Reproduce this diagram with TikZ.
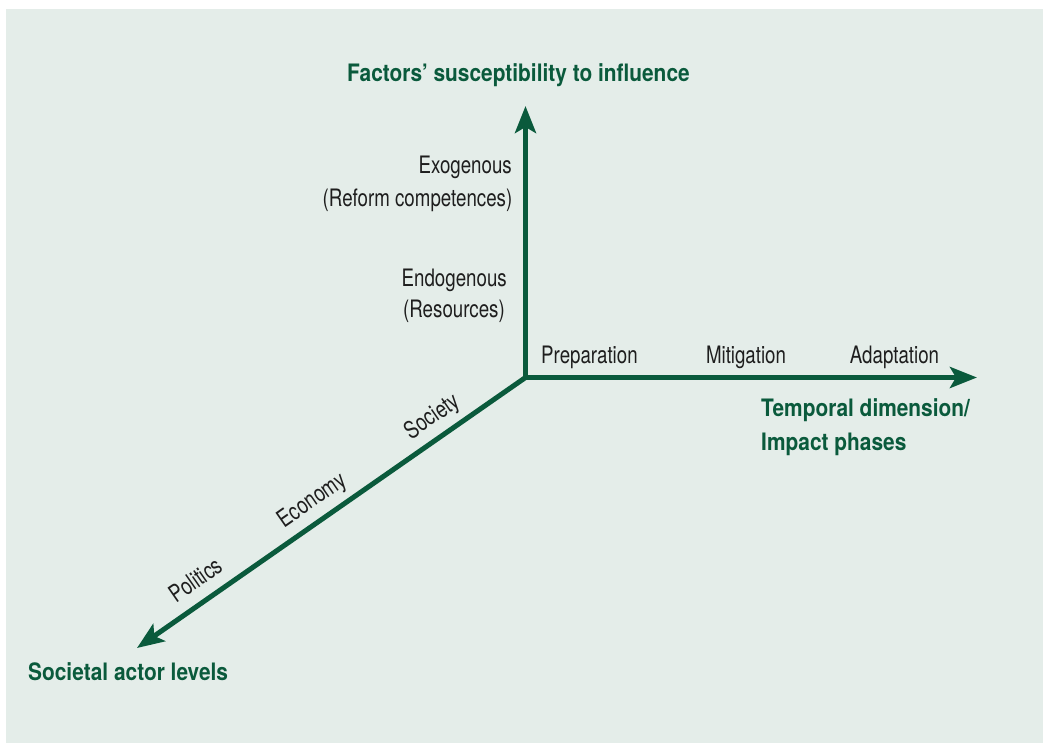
\documentclass[tikz,border=0pt]{standalone}
\usepackage{fontspec}
\usetikzlibrary{arrows.meta,calc}
\newfontfamily\lblfont{TeX Gyre Heros}[FakeStretch=0.78]
\newfontfamily\ttlfont{TeX Gyre Heros}[FakeStretch=0.87]
\definecolor{axisgreen}{HTML}{0A5A3C}
\definecolor{bggreen}{HTML}{E4EDE9}
\definecolor{lbltext}{HTML}{1E1E1E}
\tikzset{
  axisline/.style={line width=5pt, draw=axisgreen, line join=miter,
    -{Stealth[length=27pt,width=21pt,inset=6pt]}},
  lbl/.style={inner sep=0pt, text=lbltext, font=\lblfont\fontsize{24}{28}\selectfont},
  ttl/.style={inner sep=0pt, text=axisgreen, font=\ttlfont\bfseries\fontsize{24}{28}\selectfont},
}
\begin{document}
\begin{tikzpicture}[x=1pt,y=-1pt]
\useasboundingbox (0,0) rectangle (1043,743);
\fill[white] (0,0) rectangle (1043,743);
\fill[bggreen] (6,9) rectangle (1043,743);

\coordinate (O) at (525.5,377.5);
\coordinate (V) at (525.5,106);
\coordinate (H) at (977,377.5);
\coordinate (L) at (137,648);

\draw[axisline, {Stealth[length=27pt,width=21pt,inset=6pt]}-{Stealth[length=27pt,width=21pt,inset=6pt]}] (V) -- (O) -- (H);
\draw[axisline] (O) -- (L);

% vertical axis labels
\node[lbl, anchor=base east] (exo) at (512,174) {Exogenous};
\node[lbl, anchor=base east] (reform) at (512.5,206.5) {(Reform competences)};
\node[lbl, anchor=base east] (endo) at (507,286.7) {Endogenous};
\node[lbl, anchor=base east] (res) at (505,317.3) {(Resources)};

% horizontal axis labels
\node[lbl, anchor=base west] (prep) at (541,363) {Preparation};
\node[lbl, anchor=base] (miti) at (746,363) {Mitigation};
\node[lbl, anchor=base] (adap) at (894.5,363) {Adaptation};

% diagonal axis labels
\coordinate (pPol) at ($(L)!0.184!(O)$);
\coordinate (pEco) at ($(L)!0.482!(O)$);
\coordinate (pSoc) at ($(L)!0.791!(O)$);
\node[lbl, anchor=base, rotate=34.8] (pol) at ($(pPol)!14pt!90:(O)$) {Politics};
\node[lbl, anchor=base, rotate=34.8] (eco) at ($(pEco)!14pt!90:(O)$) {Economy};
\node[lbl, anchor=base, rotate=34.8] (soc) at ($(pSoc)!14pt!90:(O)$) {Society};

% axis titles
\node[ttl, anchor=base west] (tv) at (347,81.7) {Factors’ susceptibility to influence};
\node[ttl, anchor=base west] (th1) at (761,416.7) {Temporal dimension/};
\node[ttl, anchor=base west] (th2) at (761,450) {Impact phases};
\node[ttl, anchor=base west] (td) at (28,680) {Societal actor levels};
\end{tikzpicture}
\end{document}
